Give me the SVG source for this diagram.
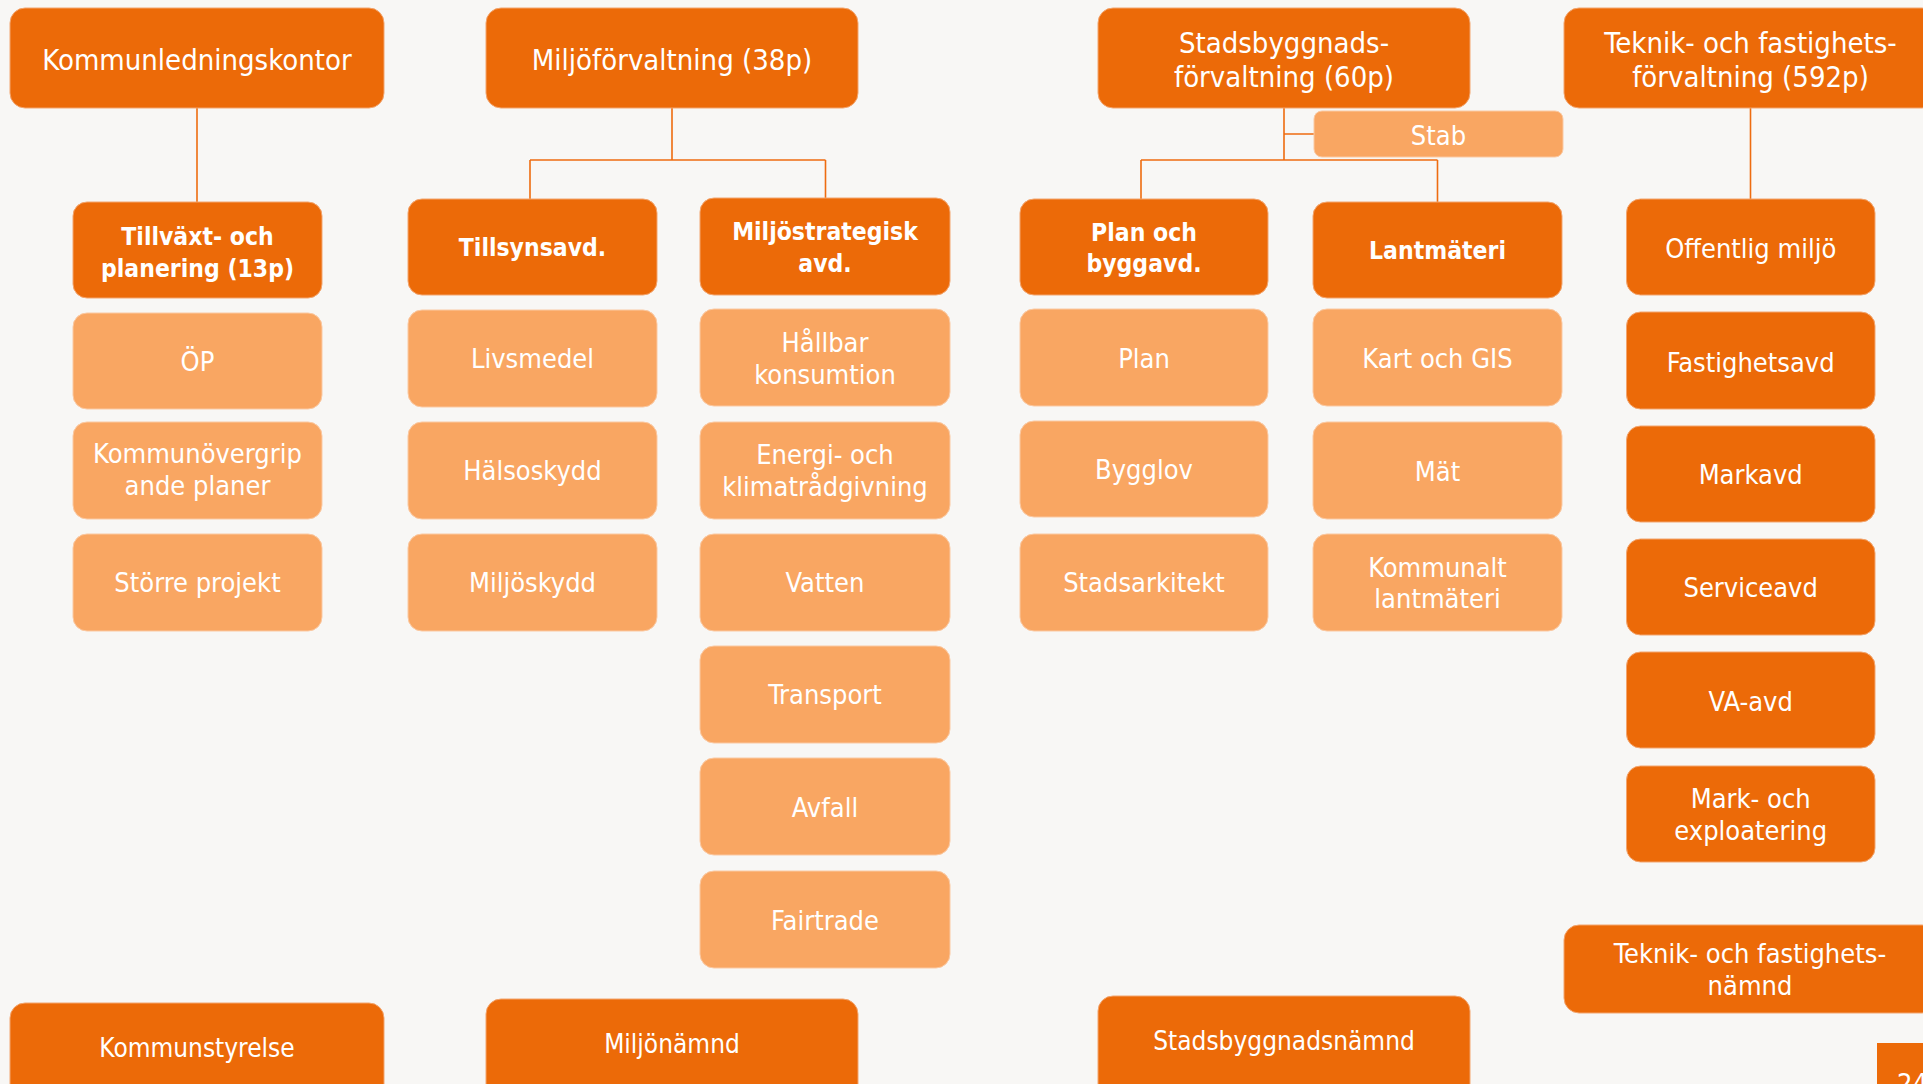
<svg xmlns="http://www.w3.org/2000/svg" width="1923" height="1084" viewBox="0 0 1923 1084">
<style>
.dk{fill:#EC6A08;stroke:#F3A56E;stroke-width:1}
.lt{fill:#F9A662;stroke:#FBC9A2;stroke-width:1}
.t{fill:#FFFFFF;font-family:"DejaVu Sans Condensed","DejaVu Sans",sans-serif;font-stretch:condensed;font-size:27px;text-anchor:middle}
.h{font-size:29px}
.n{font-size:26px}
.b{font-weight:bold;font-size:24.5px}
.ln{fill:none;stroke:#EE6C10;stroke-width:1.6}
</style>
<rect x="0" y="0" width="1923" height="1084" fill="#F8F7F5"/>
<g id="connectors">
<path class="ln" d="M197,108 V202"/>
<path class="ln" d="M672,108 V160 M530,160 H825.5 M530,160 V199 M825.5,160 V198"/>
<path class="ln" d="M1284,108 V160 M1284,134 H1314 M1141,160 H1437.5 M1141,160 V199 M1437.5,160 V202"/>
<path class="ln" d="M1750.5,108 V199"/>
</g>
<g id="n-kommunledningskontor"><rect class="dk" x="10" y="8" width="374" height="100" rx="15"/><text class="t h" x="197" y="70">Kommunledningskontor</text></g>
<g id="n-miljoforvaltning"><rect class="dk" x="486" y="8" width="372" height="100" rx="15"/><text class="t h" x="672" y="70">Miljöförvaltning (38p)</text></g>
<g id="n-stadsbyggnadsforvaltning"><rect class="dk" x="1098" y="8" width="372" height="100" rx="15"/><text class="t h" x="1284" y="53">Stadsbyggnads-</text><text class="t h" x="1284" y="87">förvaltning (60p)</text></g>
<g id="n-teknikforvaltning"><rect class="dk" x="1564" y="8" width="373" height="100" rx="15"/><text class="t h" x="1750.5" y="53">Teknik- och fastighets-</text><text class="t h" x="1750.5" y="87">förvaltning (592p)</text></g>
<g id="n-stab"><rect class="lt" x="1314" y="111" width="249" height="46" rx="8"/><text class="t" x="1438.5" y="145">Stab</text></g>

<g id="n-tillvaxt"><rect class="dk" x="73" y="202" width="249" height="96" rx="14"/><text class="t b" x="197.5" y="245">Tillväxt- och</text><text class="t b" x="197.5" y="277">planering (13p)</text></g>
<g id="n-tillsynsavd"><rect class="dk" x="408" y="199" width="249" height="96" rx="14"/><text class="t b" x="532.5" y="256">Tillsynsavd.</text></g>
<g id="n-miljostrategisk"><rect class="dk" x="700" y="198" width="250" height="97" rx="14"/><text class="t b" x="825" y="240">Miljöstrategisk</text><text class="t b" x="825" y="272">avd.</text></g>
<g id="n-planbygg"><rect class="dk" x="1020" y="199" width="248" height="96" rx="14"/><text class="t b" x="1144" y="241">Plan och</text><text class="t b" x="1144" y="272">byggavd.</text></g>
<g id="n-lantmateri"><rect class="dk" x="1313" y="202" width="249" height="96" rx="14"/><text class="t b" x="1437.5" y="259">Lantmäteri</text></g>
<g id="n-offentlig"><rect class="dk" x="1626.5" y="199" width="248.5" height="96" rx="14"/><text class="t" x="1750.7" y="258">Offentlig miljö</text></g>

<g id="n-op"><rect class="lt" x="73" y="313" width="249" height="96" rx="14"/><text class="t" x="197.5" y="371">ÖP</text></g>
<g id="n-kommunovergripande"><rect class="lt" x="73" y="422" width="249" height="97" rx="14"/><text class="t" x="197.5" y="463">Kommunövergrip</text><text class="t" x="197.5" y="495">ande planer</text></g>
<g id="n-storre"><rect class="lt" x="73" y="534" width="249" height="97" rx="14"/><text class="t" x="197.5" y="592">Större projekt</text></g>

<g id="n-livsmedel"><rect class="lt" x="408" y="310" width="249" height="97" rx="14"/><text class="t" x="532.5" y="368">Livsmedel</text></g>
<g id="n-halsoskydd"><rect class="lt" x="408" y="422" width="249" height="97" rx="14"/><text class="t" x="532.5" y="480">Hälsoskydd</text></g>
<g id="n-miljoskydd"><rect class="lt" x="408" y="534" width="249" height="97" rx="14"/><text class="t" x="532.5" y="592">Miljöskydd</text></g>

<g id="n-hallbar"><rect class="lt" x="700" y="309" width="250" height="97" rx="14"/><text class="t" x="825" y="352">Hållbar</text><text class="t" x="825" y="384">konsumtion</text></g>
<g id="n-energi"><rect class="lt" x="700" y="422" width="250" height="97" rx="14"/><text class="t" x="825" y="464">Energi- och</text><text class="t" x="825" y="496">klimatrådgivning</text></g>
<g id="n-vatten"><rect class="lt" x="700" y="534" width="250" height="97" rx="14"/><text class="t" x="825" y="592">Vatten</text></g>
<g id="n-transport"><rect class="lt" x="700" y="646" width="250" height="97" rx="14"/><text class="t" x="825" y="704">Transport</text></g>
<g id="n-avfall"><rect class="lt" x="700" y="758" width="250" height="97" rx="14"/><text class="t" x="825" y="817">Avfall</text></g>
<g id="n-fairtrade"><rect class="lt" x="700" y="871" width="250" height="97" rx="14"/><text class="t" x="825" y="930">Fairtrade</text></g>

<g id="n-plan"><rect class="lt" x="1020" y="309" width="248" height="97" rx="14"/><text class="t" x="1144" y="368">Plan</text></g>
<g id="n-bygglov"><rect class="lt" x="1020" y="421" width="248" height="96" rx="14"/><text class="t" x="1144" y="479">Bygglov</text></g>
<g id="n-stadsarkitekt"><rect class="lt" x="1020" y="534" width="248" height="97" rx="14"/><text class="t" x="1144" y="592">Stadsarkitekt</text></g>

<g id="n-kartgis"><rect class="lt" x="1313" y="309" width="249" height="97" rx="14"/><text class="t" x="1437.5" y="368">Kart och GIS</text></g>
<g id="n-mat"><rect class="lt" x="1313" y="422" width="249" height="97" rx="14"/><text class="t" x="1437.5" y="481">Mät</text></g>
<g id="n-kommunalt"><rect class="lt" x="1313" y="534" width="249" height="97" rx="14"/><text class="t" x="1437.5" y="577">Kommunalt</text><text class="t" x="1437.5" y="608">lantmäteri</text></g>

<g id="n-fastighetsavd"><rect class="dk" x="1626.5" y="312" width="248.5" height="97" rx="14"/><text class="t" x="1750.7" y="372">Fastighetsavd</text></g>
<g id="n-markavd"><rect class="dk" x="1626.5" y="426" width="248.5" height="96" rx="14"/><text class="t" x="1750.7" y="484">Markavd</text></g>
<g id="n-serviceavd"><rect class="dk" x="1626.5" y="539" width="248.5" height="96" rx="14"/><text class="t" x="1750.7" y="597">Serviceavd</text></g>
<g id="n-vaavd"><rect class="dk" x="1626.5" y="652" width="248.5" height="96" rx="14"/><text class="t" x="1750.7" y="711">VA-avd</text></g>
<g id="n-markexpl"><rect class="dk" x="1626.5" y="766" width="248.5" height="96" rx="14"/><text class="t" x="1750.7" y="808">Mark- och</text><text class="t" x="1750.7" y="840">exploatering</text></g>

<g id="n-teknikfastnamnd"><rect class="dk" x="1564" y="925" width="373" height="88" rx="15"/><text class="t" x="1750" y="963">Teknik- och fastighets-</text><text class="t" x="1750" y="995">nämnd</text></g>
<g id="n-kommunstyrelse"><rect class="dk" x="10" y="1003" width="374" height="110" rx="15"/><text class="t n" x="197" y="1057">Kommunstyrelse</text></g>
<g id="n-miljonamnd"><rect class="dk" x="486" y="999" width="372" height="110" rx="15"/><text class="t n" x="672" y="1053">Miljönämnd</text></g>
<g id="n-stadsbyggnadsnamnd"><rect class="dk" x="1098" y="996" width="372" height="110" rx="15"/><text class="t n" x="1284" y="1050">Stadsbyggnadsnämnd</text></g>
<g id="n-page"><rect x="1877" y="1043" width="60" height="60" fill="#EC6A08"/><text class="t" x="1897" y="1093" style="text-anchor:start">24</text></g>
</svg>
